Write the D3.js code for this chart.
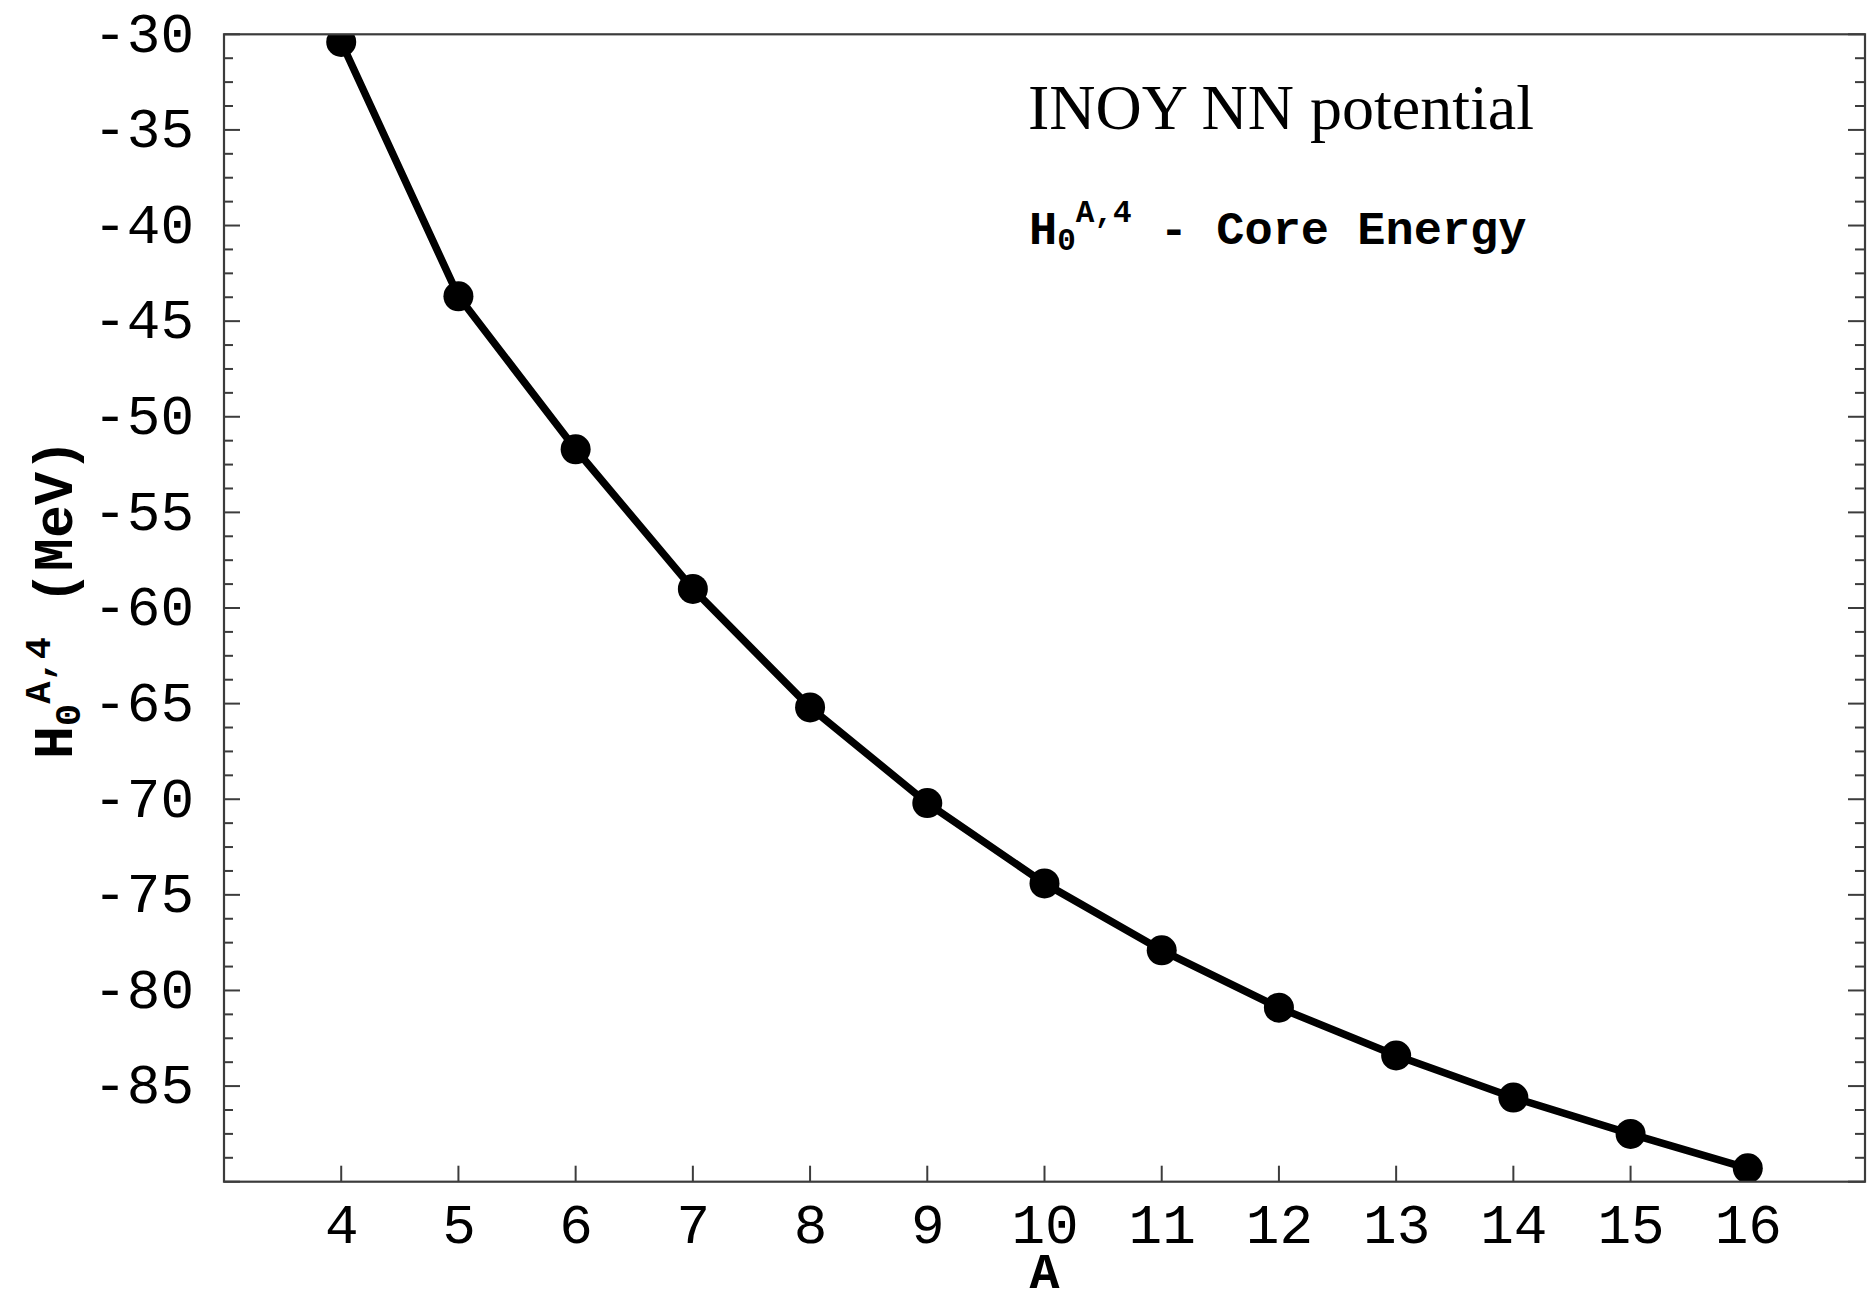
<!DOCTYPE html>
<html>
<head>
<meta charset="utf-8">
<script src="https://cdn.jsdelivr.net/npm/d3@7"></script>
<style>
  html, body { margin: 0; padding: 0; background: #fff; }
  svg { display: block; }
</style>
</head>
<body>
<svg id="chart" width="1868" height="1296"></svg>
<script>
// Core energy H0^{A,4} versus mass number A (INOY NN potential)
const massNumbers = [4, 5, 6, 7, 8, 9, 10, 11, 12, 13, 14, 15, 16];
const coreEnergy = [-30.4, -43.7, -51.7, -59.0, -65.2, -70.2, -74.4, -77.9, -80.9, -83.4, -85.6, -87.5, -89.3];
const xTickValues = [4, 5, 6, 7, 8, 9, 10, 11, 12, 13, 14, 15, 16];
const yTickValues = [-85, -80, -75, -70, -65, -60, -55, -50, -45, -40, -35, -30];
const xDomain = [3, 17];
const yDomain = [-90, -30];

(function draw() {
  const svg = d3.select("#chart");
  const W = 1868, H = 1296;
  const pLeft = 224, pRight = 1865, pTop = 34.3, pBottom = 1181.7;

  svg.append("rect").attr("width", W).attr("height", H).attr("fill", "#fff");

  const x = d3.scaleLinear().domain(xDomain).range([pLeft, pRight]);
  const y = d3.scaleLinear().domain(yDomain).range([pBottom, pTop]);

  const monoFont = "'Liberation Mono', 'Courier New', monospace";
  const frameColor = "#3c3c3c";

  // minor y ticks every 1.25 units, skipping the labelled majors
  const yMinor = d3.range(yDomain[0], yDomain[1] + 0.001, 1.25).filter(v => Math.abs(v % 5) > 0.01);
  const yMajorAll = d3.range(yDomain[0], yDomain[1] + 0.001, 5);

  // left axis labels
  const leftAxis = d3.axisLeft(y).tickValues(yTickValues).tickSize(0).tickPadding(30)
    .tickFormat(d => String(d));
  const gl = svg.append("g").attr("transform", `translate(${pLeft},0)`).call(leftAxis);
  gl.select(".domain").remove();
  gl.selectAll("text")
    .attr("font-family", monoFont).attr("font-size", 56).attr("fill", "#000")
    .attr("dy", "0.3em");

  // bottom axis labels
  const bottomAxis = d3.axisBottom(x).tickValues(xTickValues).tickSize(0)
    .tickFormat(d => String(d));
  const gb = svg.append("g").attr("transform", `translate(0,${pBottom})`).call(bottomAxis);
  gb.select(".domain").remove();
  gb.selectAll("text")
    .attr("font-family", monoFont).attr("font-size", 56).attr("fill", "#000")
    .attr("y", 61).attr("dy", 0);

  // tick marks, drawn inward on left, right and bottom
  const ticks = svg.append("g").attr("stroke", frameColor).attr("stroke-width", 2);
  yMajorAll.forEach(v => {
    ticks.append("line").attr("x1", pLeft).attr("x2", pLeft + 16).attr("y1", y(v)).attr("y2", y(v));
    ticks.append("line").attr("x1", pRight).attr("x2", pRight - 17).attr("y1", y(v)).attr("y2", y(v));
  });
  yMinor.forEach(v => {
    ticks.append("line").attr("x1", pLeft).attr("x2", pLeft + 9).attr("y1", y(v)).attr("y2", y(v));
    ticks.append("line").attr("x1", pRight).attr("x2", pRight - 10).attr("y1", y(v)).attr("y2", y(v));
  });
  xTickValues.forEach(v => {
    ticks.append("line").attr("x1", x(v)).attr("x2", x(v)).attr("y1", pBottom).attr("y2", pBottom - 16);
  });

  // clip for the data
  svg.append("clipPath").attr("id", "plotClip")
    .append("rect").attr("x", pLeft).attr("y", pTop).attr("width", pRight - pLeft).attr("height", pBottom - pTop);

  const pts = massNumbers.map((a, i) => [a, coreEnergy[i]]);
  const plot = svg.append("g").attr("clip-path", "url(#plotClip)");
  plot.append("path")
    .datum(pts)
    .attr("fill", "none").attr("stroke", "#000").attr("stroke-width", 7.5)
    .attr("stroke-linejoin", "round")
    .attr("d", d3.line().x(d => x(d[0])).y(d => y(d[1])));
  plot.selectAll("circle").data(pts).join("circle")
    .attr("cx", d => x(d[0])).attr("cy", d => y(d[1])).attr("r", 15).attr("fill", "#000");

  // frame
  svg.append("rect")
    .attr("x", pLeft).attr("y", pTop).attr("width", pRight - pLeft).attr("height", pBottom - pTop)
    .attr("fill", "none").attr("stroke", frameColor).attr("stroke-width", 2.2);

  // x axis label
  svg.append("text")
    .attr("x", x(10)).attr("y", 1288).attr("text-anchor", "middle")
    .attr("font-family", monoFont).attr("font-weight", "bold").attr("font-size", 50)
    .attr("fill", "#000").text("A");

  // y axis label: H_0^{A,4} (MeV), rotated
  const yl = svg.append("text")
    .attr("transform", "translate(72,759) rotate(-90)")
    .attr("font-family", monoFont).attr("font-weight", "bold").attr("font-size", 55)
    .attr("fill", "#000");
  yl.append("tspan").text("H");
  yl.append("tspan").attr("font-size", 37).attr("dy", 8).text("0");
  yl.append("tspan").attr("font-size", 37).attr("dy", -30).text("A,4");
  yl.append("tspan").attr("dy", 22).text("\u00a0(MeV)");

  // annotation
  svg.append("text")
    .attr("x", 1028).attr("y", 129)
    .attr("font-family", "'Liberation Serif', 'Times New Roman', serif").attr("font-size", 64)
    .attr("fill", "#000").text("INOY NN potential");

  const legend = svg.append("text")
    .attr("x", 1029).attr("y", 244)
    .attr("font-family", monoFont).attr("font-weight", "bold").attr("font-size", 47).attr("fill", "#000");
  legend.append("tspan").text("H");
  legend.append("tspan").attr("font-size", 31).attr("dy", 6).text("0");
  legend.append("tspan").attr("font-size", 31).attr("dy", -28).text("A,4");
  legend.append("tspan").attr("dy", 22).text("\u00a0-\u00a0Core\u00a0Energy");
})();
</script>
</body>
</html>
